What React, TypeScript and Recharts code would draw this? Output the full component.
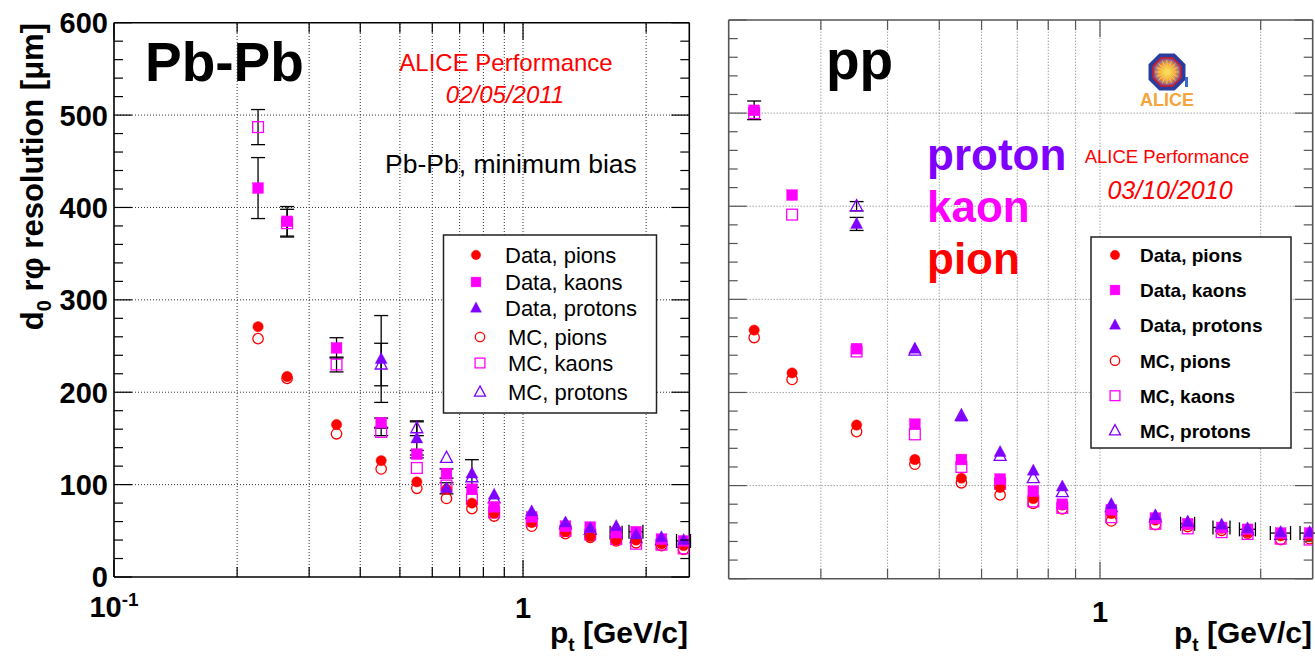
import { ScatterChart, Scatter, XAxis, YAxis, ErrorBar, ReferenceLine } from 'recharts';

const FONT = '"Liberation Sans", Arial, Helvetica, sans-serif';
const RED = '#ff0000';
const MAGENTA = '#ff00ff';
const VIOLET = '#8000ff';

// pt bin centres in GeV/c, same binning in both panels
const ptBins = [0.225, 0.265, 0.35, 0.45, 0.55, 0.65, 0.75, 0.85, 1.05, 1.27, 1.46, 1.69, 1.89, 2.18, 2.47];

// Pb-Pb, minimum bias (um)
const pbDataPion = [271, 217, 165, 126, 103, 95, 80, 69, 59, 49, 44, 40, 40, 36, 34];
const pbMcPion = [258, 215, 155, 117, 96, 85, 74, 66, 55, 47, 43, 39, 37, 34, 30];
const pbDataKaon = [421, 385, 248, 167, 133, 112, 95, 76, 65, 55, 54, 48, 49, 41, 39];
const pbMcKaon = [487, 383, 230, 157, 118, 99, 84, 70, 61, 50, 46, 41, 36, 35, 31];
const pbDataProton = [null, null, null, 236, 150, 96, 112, 89, 71, 59, 53, 55, 46, 43, 40];
const pbMcProton = [null, null, null, 230, 161, 129, 108, 85, 68, 57, 51, 48, 42, 40, 37];
const pbDataKaonErr = [33, 16, 11, 5, 4, 5, 0, 0, 0, 0, 0, 0, 0, 0, 0];
const pbMcKaonErr = [19, 15, 8, 4, 0, 0, 0, 0, 0, 0, 0, 0, 0, 0, 0];
const pbDataProtonErr = [null, null, null, 47, 18, 6, 15, 0, 0, 0, 0, 0, 0, 0, 0];
const pbMcProtonErr = [null, null, null, 23, 8, 0, 0, 0, 0, 0, 0, 0, 0, 0, 0];
const pbKaonPtErr = [0, 0, 0, 0, 0, 0, 0, 0, 0, 0, 0, 0.057, 0.074, 0, 0.097];

// pp (um)
const ppDataPion = [267, 221, 165, 128, 108, 98, 86, 79, 70, 63, 58, 54, 50, 46, 45];
const ppMcPion = [259, 214, 158, 123, 103, 90, 81, 75, 62, 58, 56, 52, 49, 42, 43];
const ppDataKaon = [503, 412, 247, 166, 128, 107, 94, 80, 74, 65, 59, 55, 53, 49, 49];
const ppMcKaon = [500, 391, 244, 155, 120, 102, 83, 76, 66, 59, 54, 50, 48, 43, 42];
const ppDataProton = [null, null, 381, 247, 174, 136, 116, 99, 80, 68, 61, 58, 54, 50, 50];
const ppMcProton = [null, null, 400, 245, 175, 132, 108, 93, 77, 66, 60, 56, 52, 47, 47];
const ppDataKaonErr = [10, 0, 0, 0, 0, 0, 0, 0, 0, 0, 0, 0, 0, 0, 0];
const ppDataProtonErr = [null, null, 7, 0, 0, 0, 0, 0, 0, 0, 0, 0, 0, 0, 0];
const ppMcProtonErr = [null, null, 5, 0, 0, 0, 0, 0, 0, 0, 0, 0, 0, 0, 0];
const ppKaonPtErr = [0, 0, 0, 0, 0, 0, 0, 0, 0, 0, 0.044, 0.062, 0.065, 0.095, 0.1];

// axes
const yTicks = [0, 20, 40, 60, 80, 100, 120, 140, 160, 180, 200, 220, 240, 260, 280, 300, 320, 340, 360, 380, 400, 420, 440, 460, 480, 500, 520, 540, 560, 580, 600];
const yGrid = [100, 200, 300, 400, 500];
const pbXTicks = [0.1, 0.2, 0.3, 0.4, 0.5, 0.6, 0.7, 0.8, 0.9, 1, 2];
const pbXGrid = [0.2, 0.3, 0.4, 0.5, 0.6, 0.7, 0.8, 0.9, 1, 2];
const ppXTicks = [0.3, 0.4, 0.5, 0.6, 0.7, 0.8, 0.9, 1, 2];
const ppXGrid = [0.3, 0.4, 0.5, 0.6, 0.7, 0.8, 0.9, 1, 2];

type Kind = 'circle' | 'square' | 'triangle';
interface Pt { pt: number; v: number; err: number; xErr: number; }
interface Series { name: string; data: Pt[]; kind: Kind; filled: boolean; color: string; }

function toPoints(values: (number | null)[], errs?: (number | null)[], xErrs?: number[]): Pt[] {
  const out: Pt[] = [];
  ptBins.forEach((pt, i) => {
    const v = values[i];
    if (v == null) return;
    out.push({ pt, v, err: errs?.[i] ?? 0, xErr: xErrs?.[i] ?? 0 });
  });
  return out;
}

// MC first so the filled data markers sit on top
const pbSeries: Series[] = [
  { name: 'MC, pions', data: toPoints(pbMcPion), kind: 'circle', filled: false, color: RED },
  { name: 'MC, kaons', data: toPoints(pbMcKaon, pbMcKaonErr), kind: 'square', filled: false, color: MAGENTA },
  { name: 'MC, protons', data: toPoints(pbMcProton, pbMcProtonErr), kind: 'triangle', filled: false, color: VIOLET },
  { name: 'Data, pions', data: toPoints(pbDataPion), kind: 'circle', filled: true, color: RED },
  { name: 'Data, kaons', data: toPoints(pbDataKaon, pbDataKaonErr, pbKaonPtErr), kind: 'square', filled: true, color: MAGENTA },
  { name: 'Data, protons', data: toPoints(pbDataProton, pbDataProtonErr), kind: 'triangle', filled: true, color: VIOLET },
];

const ppSeries: Series[] = [
  { name: 'MC, pions', data: toPoints(ppMcPion), kind: 'circle', filled: false, color: RED },
  { name: 'MC, kaons', data: toPoints(ppMcKaon), kind: 'square', filled: false, color: MAGENTA },
  { name: 'MC, protons', data: toPoints(ppMcProton, ppMcProtonErr), kind: 'triangle', filled: false, color: VIOLET },
  { name: 'Data, pions', data: toPoints(ppDataPion), kind: 'circle', filled: true, color: RED },
  { name: 'Data, kaons', data: toPoints(ppDataKaon, ppDataKaonErr, ppKaonPtErr), kind: 'square', filled: true, color: MAGENTA },
  { name: 'Data, protons', data: toPoints(ppDataProton, ppDataProtonErr), kind: 'triangle', filled: true, color: VIOLET },
];

// legend order as drawn in the boxes
const legendOrder = ['Data, pions', 'Data, kaons', 'Data, protons', 'MC, pions', 'MC, kaons', 'MC, protons'];

function Mark({ cx, cy, kind, filled, color, size = 12 }: any) {
  if (cx == null || cy == null) return null;
  const h = size / 2;
  const fill = filled ? color : 'none';
  const sw = filled ? 0.4 : 1.3;
  if (kind === 'circle') {
    return <circle cx={cx} cy={cy} r={h - 0.8} fill={fill} stroke={color} strokeWidth={sw} />;
  }
  if (kind === 'square') {
    return <rect x={cx - h + 0.6} y={cy - h + 0.6} width={size - 1.2} height={size - 1.2} fill={fill} stroke={color} strokeWidth={sw} />;
  }
  const pts = `${cx},${cy - h * 1.1} ${cx - h * 1.0},${cy + h * 0.75} ${cx + h * 1.0},${cy + h * 0.75}`;
  return <polygon points={pts} fill={fill} stroke={color} strokeWidth={sw} strokeLinejoin="miter" />;
}

function LeftTick({ x, y, payload, color, labelled }: any) {
  const major = payload.value % 100 === 0;
  return (
    <g>
      <line x1={x} y1={y} x2={x + (major ? 18 : 9)} y2={y} stroke={color} strokeWidth={1.2} />
      {labelled && major && (
        <text x={x - 6} y={y} dy="0.36em" textAnchor="end" fontFamily={FONT} fontWeight="bold" fontSize={29} fill="#000">
          {payload.value}
        </text>
      )}
    </g>
  );
}

function RightTick({ x, y, payload, color }: any) {
  const major = payload.value % 100 === 0;
  return <line x1={x} y1={y} x2={x - (major ? 18 : 9)} y2={y} stroke={color} strokeWidth={1.2} />;
}

function BottomTick({ x, y, payload, color, labelled, labelDy }: any) {
  const v = payload.value;
  const major = v === 0.1 || v === 1;
  return (
    <g>
      <line x1={x} y1={y} x2={x} y2={y - (major ? 17 : 10)} stroke={color} strokeWidth={1.2} />
      {labelled && v === 1 && (
        <text x={x} y={y + labelDy} textAnchor="middle" fontFamily={FONT} fontWeight="bold" fontSize={29} fill="#000">1</text>
      )}
      {labelled && v === 0.1 && (
        <text x={x} y={y + 40} textAnchor="middle" fontFamily={FONT} fontWeight="bold" fontSize={29} fill="#000">
          10<tspan dy={-11} fontSize={19}>-1</tspan>
        </text>
      )}
    </g>
  );
}

function TopTick({ x, y, payload, color }: any) {
  const major = payload.value === 0.1 || payload.value === 1;
  return <line x1={x} y1={y} x2={x} y2={y + (major ? 17 : 10)} stroke={color} strokeWidth={1.2} />;
}

interface PanelProps {
  left: number;
  width: number;
  margin: { top: number; right: number; bottom: number; left: number };
  yAxisWidth: number;
  xDomain: [number, number];
  xTicks: number[];
  xGrid: number[];
  series: Series[];
  frame: string;
  grid: string;
  labelled: boolean;
  labelDy: number;
}

function Panel(p: PanelProps) {
  const axisLine = { stroke: p.frame, strokeWidth: 1.6 };
  return (
    <div style={{ position: 'absolute', left: p.left, top: 0 }}>
      <ScatterChart width={p.width} height={659} margin={p.margin}>
        <XAxis
          xAxisId="b" type="number" dataKey="pt" scale="log" domain={p.xDomain} allowDataOverflow
          ticks={p.xTicks} interval={0} height={40} tickSize={0} tickMargin={0} tickLine={false}
          axisLine={axisLine}
          tick={(t: any) => <BottomTick {...t} color={p.frame} labelled={p.labelled || t.payload.value === 1} labelDy={p.labelDy} />}
        />
        <XAxis
          xAxisId="t" orientation="top" type="number" dataKey="pt" scale="log" domain={p.xDomain} allowDataOverflow
          ticks={p.xTicks} interval={0} height={1} tickSize={0} tickMargin={0} tickLine={false}
          axisLine={axisLine}
          tick={(t: any) => <TopTick {...t} color={p.frame} />}
        />
        <YAxis
          yAxisId="l" type="number" dataKey="v" domain={[0, 600]} allowDataOverflow
          ticks={yTicks} interval={0} width={p.yAxisWidth} tickSize={0} tickMargin={0} tickLine={false}
          axisLine={axisLine}
          tick={(t: any) => <LeftTick {...t} color={p.frame} labelled={p.labelled} />}
        />
        <YAxis
          yAxisId="r" orientation="right" type="number" domain={[0, 600]} allowDataOverflow
          ticks={yTicks} interval={0} width={1} tickSize={0} tickMargin={0} tickLine={false}
          axisLine={axisLine}
          tick={(t: any) => <RightTick {...t} color={p.frame} />}
        />
        {yGrid.map(v => (
          <ReferenceLine key={`y${v}`} xAxisId="b" yAxisId="l" y={v} stroke={p.grid} strokeWidth={1} strokeDasharray="1 2" />
        ))}
        {p.xGrid.map(v => (
          <ReferenceLine key={`x${v}`} xAxisId="b" yAxisId="l" x={v} stroke={p.grid} strokeWidth={1} strokeDasharray="1 2" />
        ))}
        {p.series.map(s => (
          <Scatter
            key={s.name}
            name={s.name}
            xAxisId="b"
            yAxisId="l"
            data={s.data}
            isAnimationActive={false}
            shape={(m: any) => <Mark cx={m.cx} cy={m.cy} kind={s.kind} filled={s.filled} color={s.color} />}
          >
            <ErrorBar dataKey="err" direction="y" width={7} stroke="#000" strokeWidth={1.3} />
            <ErrorBar dataKey="xErr" direction="x" width={7} stroke="#000" strokeWidth={1.3} />
          </Scatter>
        ))}
      </ScatterChart>
    </div>
  );
}

function Legend({ x, y, w, h, rows, series, fontSize, bold, markX, textX }: any) {
  return (
    <g>
      <rect x={x} y={y} width={w} height={h} fill="#fff" stroke="#222" strokeWidth={1.5} />
      {legendOrder.map((name, i) => {
        const s = series.find((e: Series) => e.name === name);
        const mc = !s.filled;
        return (
          <g key={name}>
            <Mark cx={markX + (mc && !bold ? 4 : 0)} cy={rows[i]} kind={s.kind} filled={s.filled} color={s.color} size={11} />
            <text x={textX + (mc && !bold ? 3 : 0)} y={rows[i]} dy="0.36em" fontFamily={FONT} fontSize={fontSize}
              fontWeight={bold ? 'bold' : 'normal'} fill="#000">{name}</text>
          </g>
        );
      })}
    </g>
  );
}

function AliceLogo({ cx, cy }: { cx: number; cy: number }) {
  const oct = (r: number) =>
    Array.from({ length: 8 }, (_, i) => {
      const a = (Math.PI / 8) + (i * Math.PI) / 4;
      return `${cx + r * Math.cos(a)},${cy + r * Math.sin(a)}`;
    }).join(' ');
  const rays = Array.from({ length: 16 }, (_, i) => (i * Math.PI) / 8);
  return (
    <g>
      <rect x={cx - 34} y={cy - 22} width={73} height={60} fill="#fff" />
      <defs>
        <radialGradient id="aliceCore" cx="50%" cy="50%" r="50%">
          <stop offset="0%" stopColor="#ffe14a" />
          <stop offset="60%" stopColor="#f0a040" />
          <stop offset="100%" stopColor="#7a4aa0" />
        </radialGradient>
      </defs>
      <polygon points={oct(20)} fill="#2a3d9e" />
      <polygon points={oct(15)} fill="url(#aliceCore)" stroke="#d0202a" strokeWidth={1.6} />
      {rays.map((a, i) => (
        <line key={i} x1={cx} y1={cy} x2={cx + 12 * Math.cos(a)} y2={cy + 12 * Math.sin(a)} stroke="#f6e060" strokeWidth={0.7} />
      ))}
      <rect x={cx + 18} y={cy + 5} width={3} height={10} fill="#3a6ad0" />
      <text x={cx} y={cy + 34} textAnchor="middle" fontFamily={FONT} fontWeight="bold" fontSize={18} fill="#f5a53c">ALICE</text>
    </g>
  );
}

export default function App() {
  return (
    <div style={{ position: 'absolute', left: 0, top: 0, width: 1315, height: 659, background: '#fff', overflow: 'hidden' }}>
      <Panel
        left={0} width={700}
        margin={{ top: 21.7, right: 9.7, bottom: 42, left: 54 }} yAxisWidth={60}
        xDomain={[0.1, 2.55]} xTicks={pbXTicks} xGrid={pbXGrid} series={pbSeries}
        frame="#000" grid="#333" labelled labelDy={41}
      />
      <Panel
        left={700} width={615}
        margin={{ top: 19, right: 1.3, bottom: 40.3, left: 8.7 }} yAxisWidth={20}
        xDomain={[0.2016, 2.503]} xTicks={ppXTicks} xGrid={ppXGrid} series={ppSeries}
        frame="#555" grid="#777" labelled={false} labelDy={43}
      />
      <svg width={1315} height={659} style={{ position: 'absolute', left: 0, top: 0, pointerEvents: 'none' }}>
        {/* y axis title */}
        <text transform="rotate(-90)" x={-23} y={43} textAnchor="end" fontFamily={FONT} fontWeight="bold" fontSize={31} fill="#000">
          d<tspan dy={8} fontSize={20}>0</tspan><tspan dy={-8}> r{'\u03c6'} resolution [{'\u03bc'}m]</tspan>
        </text>
        {/* x axis titles */}
        <text x={688} y={643} textAnchor="end" fontFamily={FONT} fontWeight="bold" fontSize={30} fill="#000">
          p<tspan dy={8} fontSize={19}>t</tspan><tspan dy={-8}> [GeV/c]</tspan>
        </text>
        <text x={1312} y={643} textAnchor="end" fontFamily={FONT} fontWeight="bold" fontSize={30} fill="#000">
          p<tspan dy={8} fontSize={19}>t</tspan><tspan dy={-8}> [GeV/c]</tspan>
        </text>

        {/* Pb-Pb panel annotations */}
        <text x={145} y={81} fontFamily={FONT} fontWeight="bold" fontSize={55} fill="#000">Pb-Pb</text>
        <text x={506} y={71} textAnchor="middle" fontFamily={FONT} fontSize={24} fill={RED}>ALICE Performance</text>
        <text x={505} y={103} textAnchor="middle" fontFamily={FONT} fontStyle="italic" fontSize={24} fill={RED}>02/05/2011</text>
        <text x={385} y={173} fontFamily={FONT} fontSize={26.5} fill="#000">Pb-Pb, minimum bias</text>
        <Legend x={443.5} y={235} w={213} h={178} rows={[255, 282, 308, 337, 363, 392]} series={pbSeries}
          fontSize={22} bold={false} markX={476} textX={505} />

        {/* pp panel annotations */}
        <text x={826} y={79} fontFamily={FONT} fontWeight="bold" fontSize={55} fill="#000">pp</text>
        <text x={927} y={170} fontFamily={FONT} fontWeight="bold" fontSize={44} fill={VIOLET}>proton</text>
        <text x={927} y={222} fontFamily={FONT} fontWeight="bold" fontSize={44} fill={MAGENTA}>kaon</text>
        <text x={927} y={274} fontFamily={FONT} fontWeight="bold" fontSize={44} fill={RED}>pion</text>
        <AliceLogo cx={1167} cy={72} />
        <text x={1167} y={163} textAnchor="middle" fontFamily={FONT} fontSize={18.5} fill={RED}>ALICE Performance</text>
        <text x={1170} y={199} textAnchor="middle" fontFamily={FONT} fontStyle="italic" fontSize={25} fill={RED}>03/10/2010</text>
        <Legend x={1091} y={237} w={200} h={211} rows={[255, 290, 325, 360.7, 395.7, 430.7]} series={ppSeries}
          fontSize={19} bold markX={1115} textX={1140} />
      </svg>
    </div>
  );
}
